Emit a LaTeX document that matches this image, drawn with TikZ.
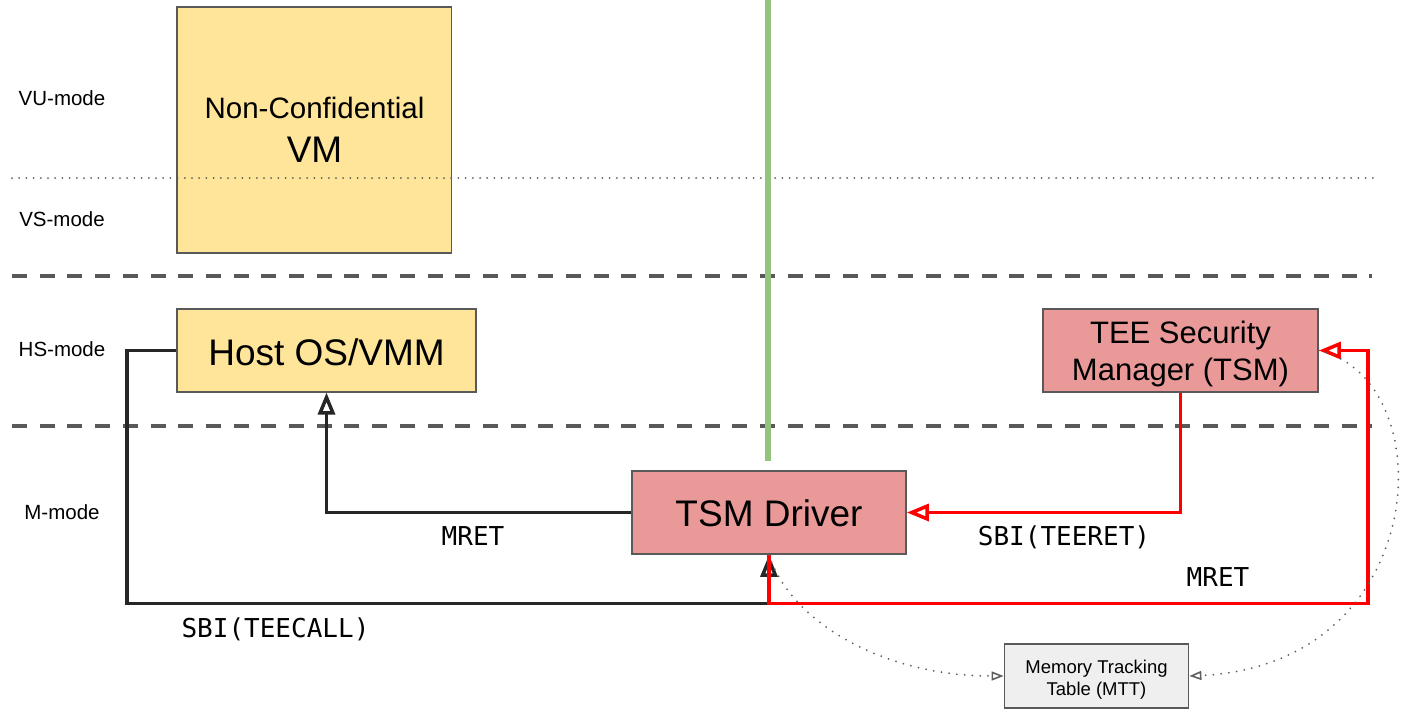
\documentclass[tikz,border=0pt]{standalone}
\usepackage{fontspec}
\setmainfont{Liberation Sans}
\newfontfamily\codefont{DejaVu Sans Mono}
\usetikzlibrary{arrows.meta}

\definecolor{boxline}{HTML}{595959}
\definecolor{vmyellow}{HTML}{FFE599}
\definecolor{tsmred}{HTML}{EA9999}
\definecolor{mttgrey}{HTML}{EFEFEF}
\definecolor{worldgreen}{HTML}{93C47D}
\definecolor{flowblack}{HTML}{262626}
\definecolor{flowred}{HTML}{FF0000}
\definecolor{dotgrey}{HTML}{5F5F5F}

\begin{document}
\begin{tikzpicture}[x=1pt, y=-1pt,
  box/.style={draw=boxline, line width=1.8pt, inner sep=0pt},
  ybox/.style={box, fill=vmyellow},
  rbox/.style={box, fill=tsmred},
  gbox/.style={box, fill=mttgrey},
  modelabel/.style={inner sep=0pt, anchor=base, font=\fontsize{20.5}{24}\selectfont},
  boxtext/.style={inner sep=0pt, anchor=base},
  bigtext/.style={boxtext, font=\fontsize{37}{44}\selectfont},
  midtext/.style={boxtext, font=\fontsize{31}{37}\selectfont},
  smalltext/.style={boxtext, font=\fontsize{18.5}{22}\selectfont},
  code/.style={inner sep=0pt, anchor=base, font=\codefont\fontsize{26}{30}\selectfont},
  flow/.style={line width=3.5pt, line join=miter,
               -{Triangle[open, length=22pt, width=17pt, line width=3.5pt]}},
  callflow/.style={flow, draw=flowblack},
  teeflow/.style={flow, draw=flowred},
  memlink/.style={draw=dotgrey, line width=2pt, line cap=round,
                  dash pattern=on 0pt off 7.8pt,
                  -{Triangle[open, length=12pt, width=9pt, line width=1.6pt]}},
  levelsep/.style={draw=boxline, line width=4pt, dash pattern=on 15pt off 12.7pt},
  vsep/.style={draw=dotgrey, line width=2pt, line cap=round, dash pattern=on 0pt off 7.2pt},
]
\useasboundingbox (0,0) rectangle (1402,713);

% privilege mode names
\node[modelabel] (vu) at (62,105) {VU-mode};
\node[modelabel] (vs) at (62,226.7) {VS-mode};
\node[modelabel] (hs) at (62,356.7) {HS-mode};
\node[modelabel] (mm) at (62,519.3) {M-mode};

% components
\node[ybox, minimum width=274.5pt, minimum height=246pt] (vm) at (314.2,129.7) {};
\node[ybox, minimum width=299pt, minimum height=82.4pt] (host) at (326.5,350.5) {};
\node[rbox, minimum width=274pt, minimum height=83pt] (tsm) at (769,512.5) {};
\node[rbox, minimum width=275pt, minimum height=83pt] (tee) at (1180.5,350.5) {};
\node[gbox, minimum width=184pt, minimum height=64pt] (mtt) at (1096.5,676) {};

\node[boxtext, font=\fontsize{29.5}{35}\selectfont] (vmtitle) at (314.5,118.3) {Non-Confidential};
\node[bigtext] (vmname) at (314.5,162.3) {VM};
\node[bigtext] (hostname) at (326.5,365) {Host OS/VMM};
\node[bigtext] (tsmname) at (769,526.7) {TSM Driver};
\node[midtext] (teenameA) at (1180.5,343.3) {TEE Security};
\node[midtext] (teenameB) at (1180.5,380) {Manager (TSM)};
\node[smalltext] (mttnameA) at (1096.5,673.3) {Memory Tracking};
\node[smalltext] (mttnameB) at (1096.5,695) {Table (MTT)};

% mode boundaries
\draw[vsep] (12,178) -- (1375,178);
\draw[levelsep] (12,276) -- (1372,276);
\draw[levelsep] (12,425.5) -- (1372,425.5);

% split between the normal and the confidential side
\draw[worldgreen, line width=5.5pt] (768,0) -- (768,461);

% host side calls
\coordinate (callbend) at (127,603.5);
\draw[callflow] (tsm.west) -| (host.south);
\draw[callflow] (host.west) -| (callbend) -| (tsm.south);

% TSM side calls
\coordinate (retbend) at (1368,603.5);
\draw[teeflow] (tee.south) |- (tsm.east);
\draw[teeflow] (tsm.south) |- (retbend) |- (tee.east);

% MTT accesses
\draw[memlink] (tsm.south) .. controls (790,620) and (880,676) .. (mtt.west);
\draw[memlink] (tee.east) .. controls (1445,380) and (1432,665) .. (mtt.east);

% call names
\node[code] (mrethost) at (473,545.5) {MRET};
\node[code] (teecall) at (275.5,637.3) {SBI(TEECALL)};
\node[code] (teeret) at (1064,545) {SBI(TEERET)};
\node[code] (mrettee) at (1218,586) {MRET};
\end{tikzpicture}
\end{document}
